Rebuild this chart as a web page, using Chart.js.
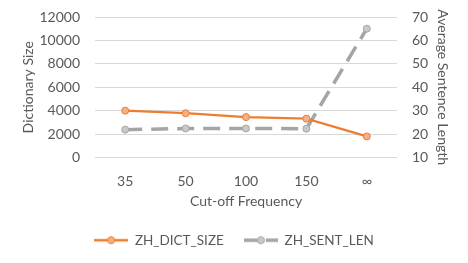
<!DOCTYPE html>
<html><head><meta charset="utf-8">
<script src="https://cdn.jsdelivr.net/npm/chart.js@4/dist/chart.umd.min.js"></script>
<style>html,body{margin:0;padding:0;background:#fff;}#wrap{width:468px;height:263px;}</style>
</head><body><div id="wrap"><canvas id="c" width="468" height="263"></canvas></div>
<script>
const categories = ["35", "50", "100", "150", "∞"];
const dictSize = [4000, 3780, 3450, 3320, 1800];
const sentLen = [21.9, 22.4, 22.4, 22.3, 65];
const leftTicks = [0, 2000, 4000, 6000, 8000, 10000, 12000];
const rightTicks = [10, 20, 30, 40, 50, 60, 70];

const ORANGE = '#ED7D31', ORANGE_FILL = '#F4B183';
const GRAY = '#A5A5A5', GRAY_FILL = '#C9C9C9';
const TXT = '#595959';
const FONT = 'Lato';

function legendIcon(color, fill, dashed) {
  const c = document.createElement('canvas');
  c.width = 34; c.height = 10;
  const x = c.getContext('2d');
  x.strokeStyle = color; x.lineWidth = dashed ? 3.5 : 2.5;
  if (dashed) x.setLineDash([15, 7]);
  x.beginPath(); x.moveTo(0, 5); x.lineTo(34, 5); x.stroke();
  x.setLineDash([]);
  x.beginPath(); x.arc(17, 5, 3.5, 0, Math.PI * 2);
  x.fillStyle = fill; x.fill(); x.lineWidth = 1; x.strokeStyle = color; x.stroke();
  return c;
}
const icons = [legendIcon(ORANGE, ORANGE_FILL, false), legendIcon(GRAY, GRAY_FILL, true)];

new Chart(document.getElementById('c'), {
  type: 'line',
  data: {
    labels: categories,
    datasets: [
      { label: 'ZH_DICT_SIZE', data: dictSize, yAxisID: 'y', borderColor: ORANGE, backgroundColor: ORANGE_FILL,
        borderWidth: 2.25, pointRadius: 3.5, pointBorderWidth: 1, pointBorderColor: ORANGE, pointBackgroundColor: ORANGE_FILL, tension: 0 },
      { label: 'ZH_SENT_LEN', data: sentLen, yAxisID: 'y1', borderColor: GRAY, backgroundColor: GRAY_FILL,
        borderWidth: 3.5, borderDash: [17, 9], pointRadius: 3.5, pointBorderWidth: 1, pointBorderColor: GRAY, pointBackgroundColor: GRAY_FILL, tension: 0 }
    ]
  },
  options: {
    responsive: false, animation: false,
    layout: { padding: { top: 17, bottom: 6, left: 0, right: 0 } },
    plugins: {
      tooltip: { enabled: false },
      legend: {
        position: 'bottom',
        labels: {
          font: { family: FONT, size: 13.5 }, color: TXT, usePointStyle: true, pointStyleWidth: 34, padding: 20,
          generateLabels(chart) {
            const items = Chart.defaults.plugins.legend.labels.generateLabels(chart);
            items.forEach((it, i) => { it.pointStyle = icons[i]; });
            return items;
          }
        }
      }
    },
    scales: {
      x: {
        offset: true,
        grid: { display: false, offset: true }, border: { display: false },
        ticks: { font: { family: FONT, size: 14 }, color: TXT, padding: 8 },
        title: { display: true, text: 'Cut-off Frequency', font: { family: FONT, size: 14 }, color: TXT, padding: { top: 4 } },
        afterFit(s) { s.height = 56; s.paddingLeft = 0; s.paddingRight = 0; }
      },
      y: {
        position: 'left', min: 0, max: 12000,
        afterBuildTicks(s) { s.ticks = leftTicks.map(v => ({ value: v })); },
        grid: { color: '#D9D9D9', lineWidth: 1, drawTicks: false }, border: { display: false },
        ticks: { font: { family: FONT, size: 14 }, color: TXT, padding: 15, callback: v => String(v) },
        title: { display: true, text: 'Dictionary Size', font: { family: FONT, size: 14 }, color: TXT, padding: { top: 20, bottom: 4 } },
        afterFit(s) { s.width = 95; s.paddingTop = 0; s.paddingBottom = 0; }
      },
      y1: {
        position: 'right', min: 10, max: 70,
        afterBuildTicks(s) { s.ticks = rightTicks.map(v => ({ value: v })); },
        grid: { display: false, drawTicks: false }, border: { display: false },
        ticks: { font: { family: FONT, size: 14 }, color: TXT, padding: 15, callback: v => String(v) },
        title: { display: true, text: 'Average Sentence Length', font: { family: FONT, size: 14 }, color: TXT, padding: { top: 17, bottom: 0 } },
        afterFit(s) { s.width = 71; s.paddingTop = 0; s.paddingBottom = 0; }
      }
    }
  }
});
</script></body></html>
